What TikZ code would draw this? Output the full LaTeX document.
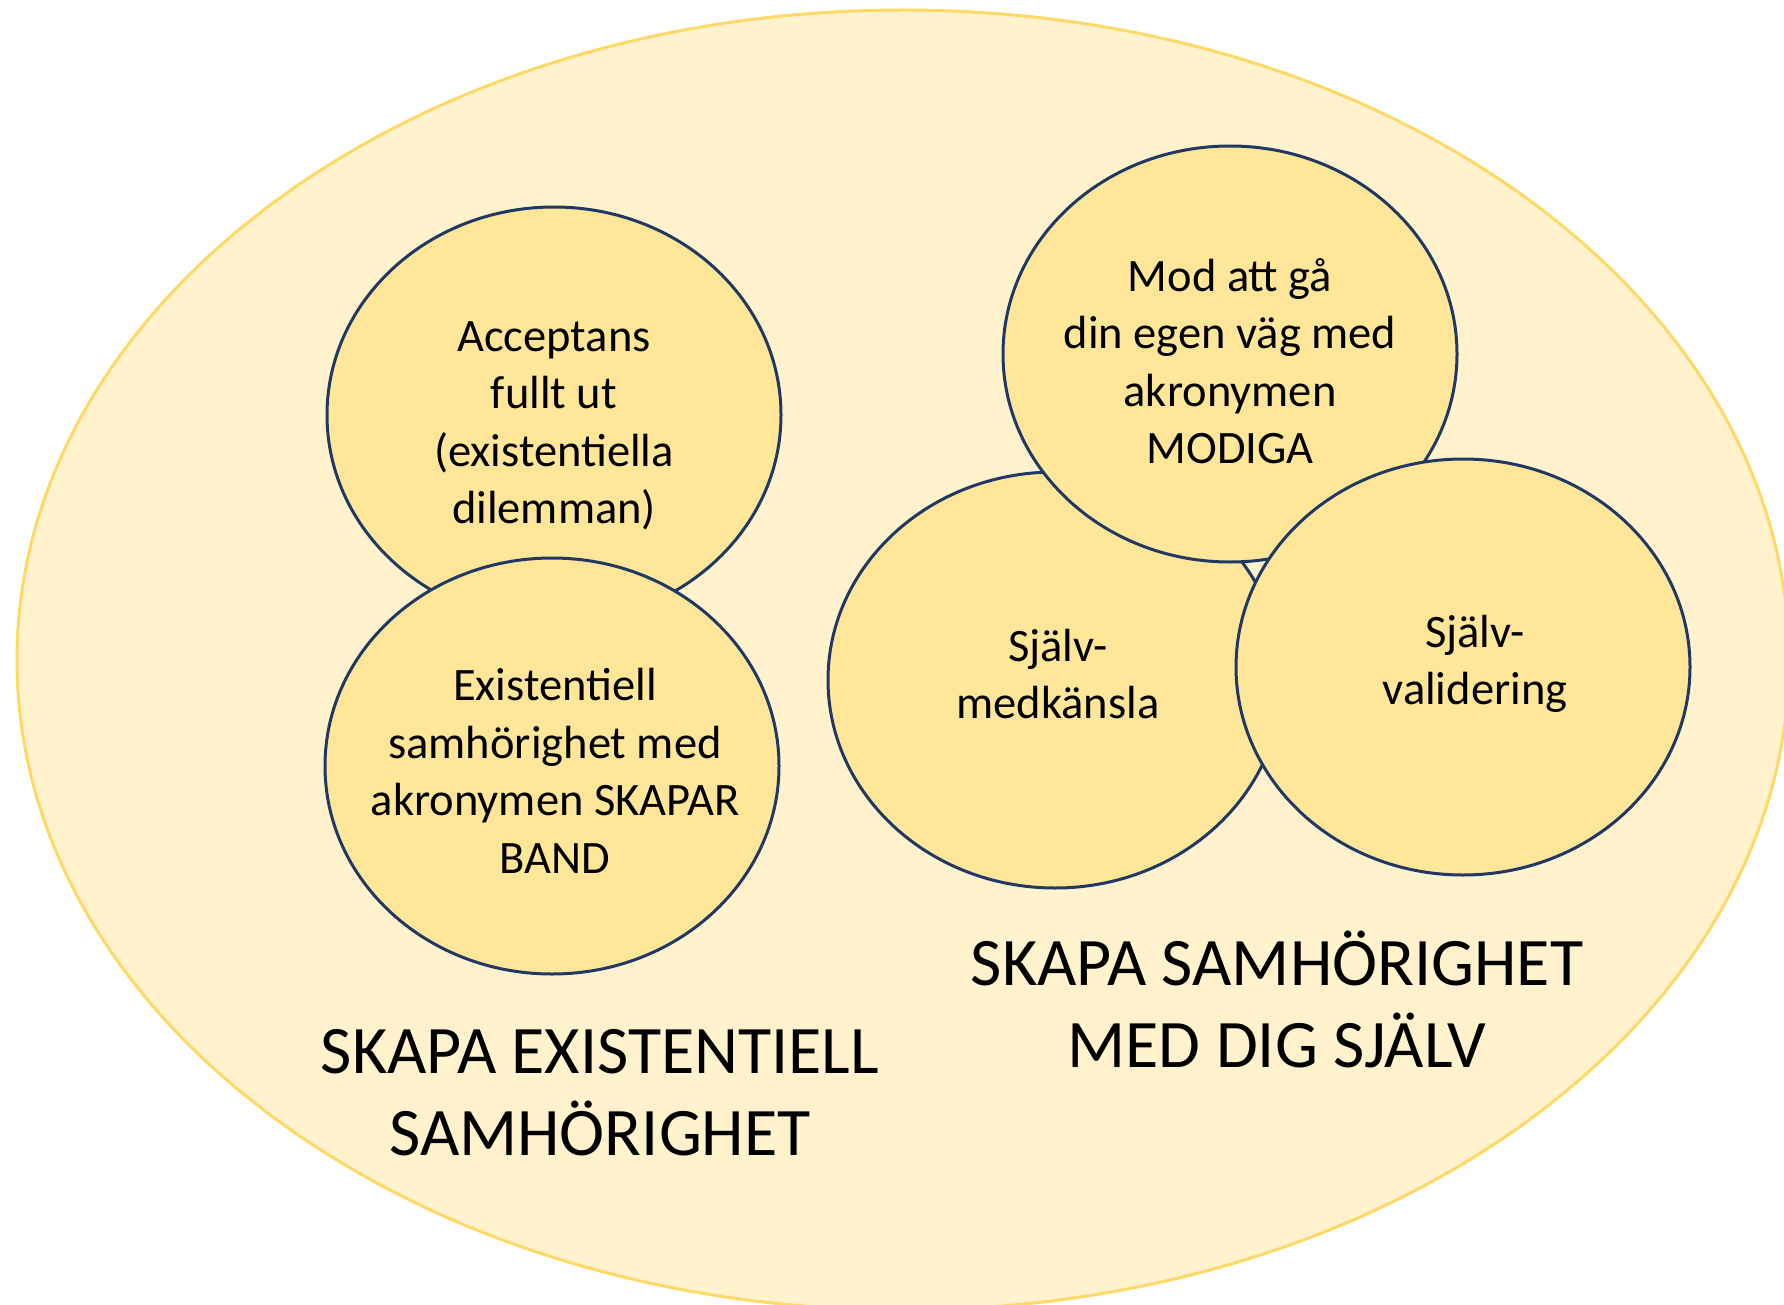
\documentclass[tikz,border=0pt]{standalone}
\usepackage{fontspec}
\setmainfont{Carlito}
\usetikzlibrary{shapes.geometric}

\newlength{\du}
\setlength{\du}{1pt}

\definecolor{outerfill}{rgb}{1.000000, 0.949020, 0.800000}
\definecolor{outerline}{rgb}{1.000000, 0.850980, 0.400000}
\definecolor{bubblefill}{rgb}{1.000000, 0.901961, 0.600000}
\definecolor{bubbleline}{rgb}{0.121569, 0.219608, 0.392157}

\tikzset{
  bubble/.style={ellipse, draw=bubbleline, fill=bubblefill, line width=3\du,
    minimum width=454\du, minimum height=416\du, inner sep=0pt},
  bubbletext/.style={align=center, text=black, font=\fontsize{46.5}{57.5}\selectfont},
  bigtext/.style={align=center, text=black, font=\fontsize{68}{82}\selectfont},
}

\begin{document}
\begin{tikzpicture}
\pgftransformxscale{1.000000}
\pgftransformyscale{-1.000000}
\useasboundingbox (0\du,0\du) rectangle (1784\du,1305\du);
\clip (0\du,0\du) rectangle (1784\du,1305\du);

% outer field
\draw[fill=outerfill, draw=outerline, line width=3\du] (903\du,660\du) ellipse [x radius=886\du, y radius=650\du];

% left pair
\node[bubble] (accept) at (554\du,415\du) {};
\node[bubble] (exist) at (552\du,766\du) {};

% right group
\node[bubble] (medk) at (1055\du,680\du) {};
\node[bubble] (modiga) at (1230\du,354\du) {};
\node[bubble] (valid) at (1463\du,667\du) {};

\node[bubbletext] (acceptT) at (554\du,426\du) {Acceptans\\fullt ut\\(existentiella\\dilemman)};
\node[bubbletext] (existT) at (555\du,771\du) {Existentiell\\samhörighet med\\akronymen SKAPAR\\BAND};
\node[bubbletext] (modigaT) at (1230\du,361\du) {Mod att gå\\din egen väg med\\akronymen\\MODIGA};
\node[bubbletext] (medkT) at (1058\du,674\du) {Själv-\\medkänsla};
\node[bubbletext] (validT) at (1475\du,664\du) {Själv-\\validering};

% group labels
\node[bigtext] (existL) at (600\du,1093\du) {SKAPA EXISTENTIELL\\SAMHÖRIGHET};
\node[bigtext] (selfL) at (1277\du,999\du) {SKAPA SAMHÖRIGHET\\MED DIG SJÄLV};
\end{tikzpicture}
\end{document}
